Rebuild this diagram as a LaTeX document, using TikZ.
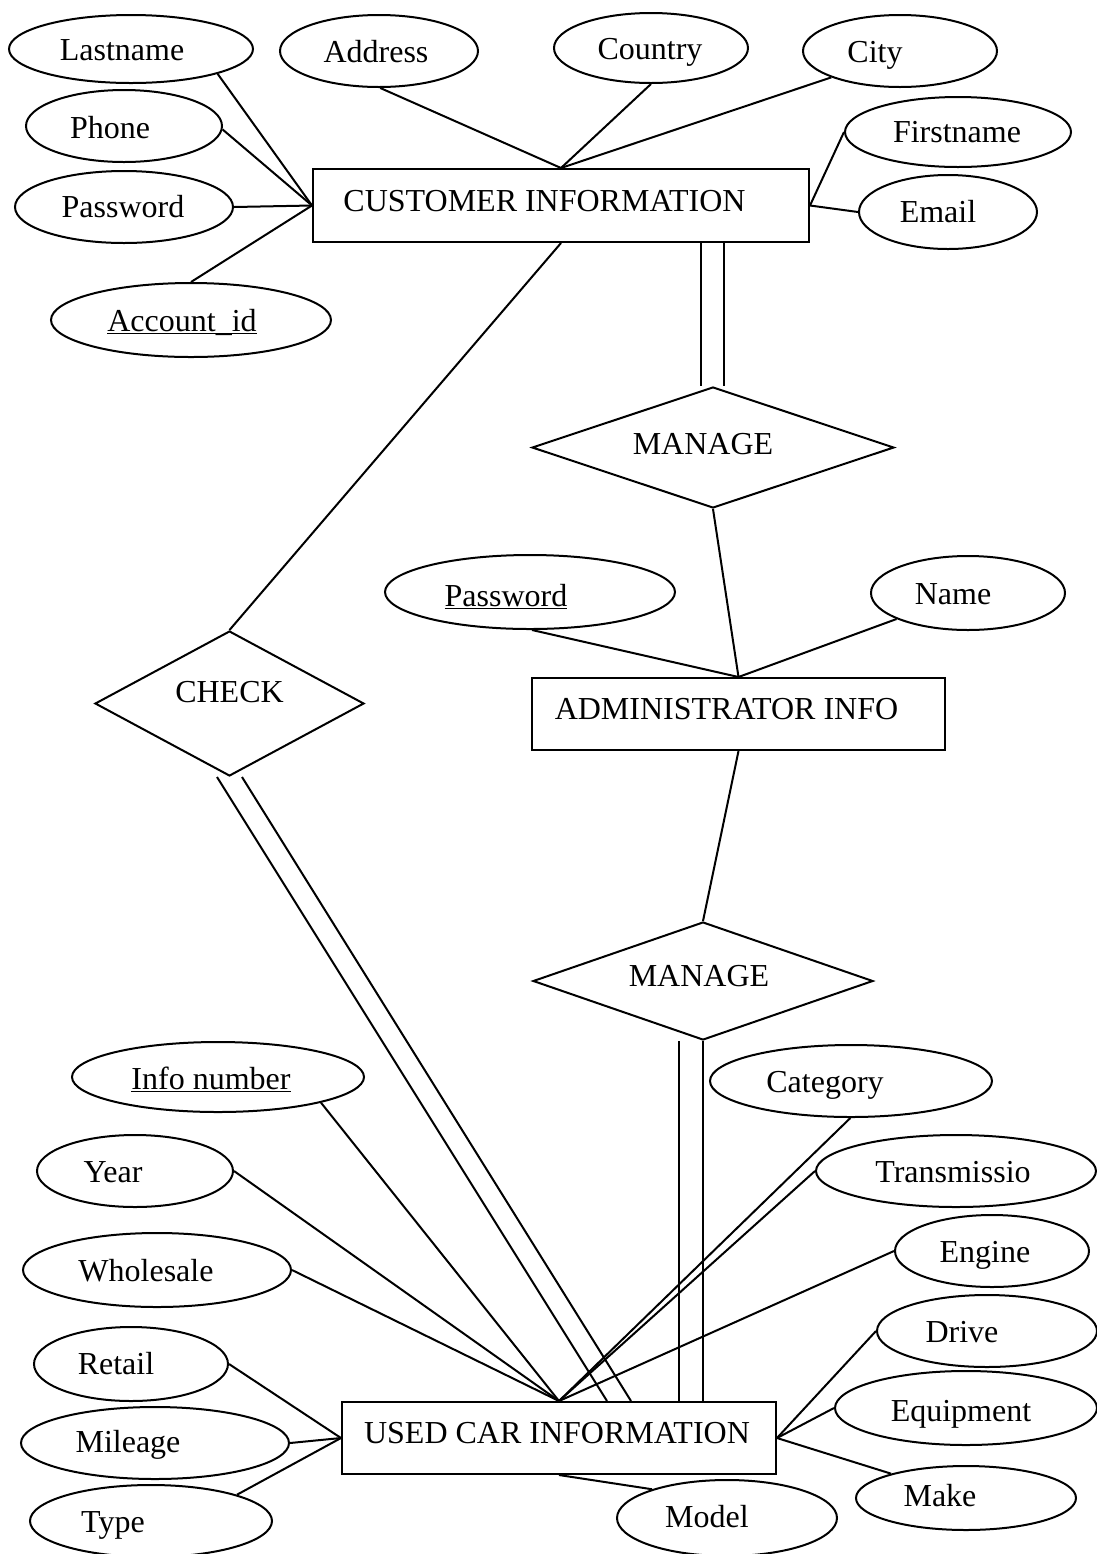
\documentclass[tikz,border=0pt]{standalone}
\usepackage{fontspec}
\setmainfont{Liberation Serif}
\usetikzlibrary{shapes.geometric,backgrounds}

% place a label off the centre of its shape: #1 right, #2 up, #3 text
\newcommand\tx[3]{\raisebox{#2}{\kern#1\relax#3\kern-\dimexpr#1\relax}}
\newcommand\key[1]{\underline{\smash{#1}}}

\tikzset{
  base/.style={draw, line width=1pt, fill=white, inner sep=0pt,
    text height=0.9em, text depth=0pt, font=\fontsize{16}{19}\selectfont},
  attr/.style={base, ellipse},
  ent/.style={base, rectangle},
  rel/.style={base, diamond, aspect=3},
  link/.style={line width=1pt},
}

\begin{document}
\begin{tikzpicture}[x=0.5pt, y=-0.5pt]
\useasboundingbox (0,0) rectangle (1097,1554);

% ---------------- entities ----------------
\node[ent, minimum width=248pt, minimum height=36.5pt] (cust) at (561,205.5) {\tx{-8.25pt}{1.5pt}{CUSTOMER INFORMATION}};
\node[ent, minimum width=206.5pt, minimum height=36pt] (admin) at (738.5,714) {\tx{-6pt}{2pt}{ADMINISTRATOR INFO}};
\node[ent, minimum width=217pt, minimum height=36pt] (ucar) at (559,1438) {\tx{-1pt}{2pt}{USED CAR INFORMATION}};

% ---------------- relationships ----------------
\node[rel, minimum width=181pt, minimum height=60.5pt] (manage1) at (713,447.5) {\tx{-5pt}{1.25pt}{MANAGE}};
\node[rel, minimum width=134.5pt, minimum height=72.5pt] (check) at (229.5,703.5) {\tx{0pt}{5.25pt}{CHECK}};
\node[rel, minimum width=170pt, minimum height=59pt] (manage2) at (703,981) {\tx{-2pt}{2pt}{MANAGE}};

% ---------------- customer attributes ----------------
\node[attr, minimum width=122pt, minimum height=34pt] (lastname) at (131,49) {\tx{-4.5pt}{-1pt}{Lastname}};
\node[attr, minimum width=99pt, minimum height=36pt] (address) at (379,51) {\tx{-1.5pt}{-1pt}{Address}};
\node[attr, minimum width=97pt, minimum height=35pt] (country) at (651,48) {\tx{-0.5pt}{-1pt}{Country}};
\node[attr, minimum width=97pt, minimum height=36pt] (city) at (900,51) {\tx{-12.5pt}{-1pt}{City}};
\node[attr, minimum width=113pt, minimum height=35pt] (firstname) at (958,132) {\tx{-0.5pt}{-0.5pt}{Firstname}};
\node[attr, minimum width=89pt, minimum height=37pt] (email) at (948,212) {\tx{-5pt}{-0.5pt}{Email}};
\node[attr, minimum width=98pt, minimum height=36pt] (phone) at (124,126) {\tx{-7pt}{-1.5pt}{Phone}};
\node[attr, minimum width=109pt, minimum height=36pt] (password) at (124,207) {\tx{-0.5pt}{-0.5pt}{Password}};
\node[attr, minimum width=140pt, minimum height=37pt] (accountid) at (191,320) {\tx{-4.5pt}{-1pt}{\key{Account\_id}}};

% ---------------- administrator attributes ----------------
\node[attr, minimum width=145pt, minimum height=37pt] (adminpw) at (530,592) {\tx{-12pt}{-2.5pt}{\key{Password}}};
\node[attr, minimum width=97pt, minimum height=37pt] (name) at (968,593) {\tx{-7.5pt}{-1pt}{Name}};

% ---------------- used car attributes ----------------
\node[attr, minimum width=146pt, minimum height=35pt] (infonumber) at (218,1077) {\tx{-3.5pt}{-1.5pt}{\key{Info number}}};
\node[attr, minimum width=98pt, minimum height=36pt] (year) at (135,1171) {\tx{-11pt}{-1pt}{Year}};
\node[attr, minimum width=134pt, minimum height=37pt] (wholesale) at (157,1270) {\tx{-5.5pt}{-1pt}{Wholesale}};
\node[attr, minimum width=97pt, minimum height=37pt] (retail) at (131,1364) {\tx{-7.5pt}{-0.5pt}{Retail}};
\node[attr, minimum width=134pt, minimum height=36pt] (mileage) at (155,1443) {\tx{-13.5pt}{0pt}{Mileage}};
\node[attr, minimum width=121pt, minimum height=36pt] (type) at (151,1521) {\tx{-19pt}{-1pt}{Type}};
\node[attr, minimum width=141pt, minimum height=36pt] (category) at (851,1081) {\tx{-13pt}{-1pt}{Category}};
\node[attr, minimum width=140pt, minimum height=36pt] (transmissio) at (956,1171) {\tx{-1.5pt}{-1pt}{Transmissio}};
\node[attr, minimum width=97pt, minimum height=36pt] (engine) at (992,1251) {\tx{-3.5pt}{-1pt}{Engine}};
\node[attr, minimum width=110pt, minimum height=36pt] (drive) at (987,1331) {\tx{-12.5pt}{-1pt}{Drive}};
\node[attr, minimum width=131pt, minimum height=37pt] (equipment) at (966,1408) {\tx{-2.5pt}{-2pt}{Equipment}};
\node[attr, minimum width=110pt, minimum height=32pt] (make) at (966,1498) {\tx{-13pt}{0.5pt}{Make}};
\node[attr, minimum width=110pt, minimum height=38pt] (model) at (727,1518) {\tx{-10pt}{0pt}{Model}};

% ---------------- connectors ----------------
\begin{pgfonlayer}{background}
  % customer attributes
  \draw[link] (lastname.-16) -- (cust.west);
  \draw[link] (phone.-2) -- (cust.west);
  \draw[link] (password.east) -- (cust.west);
  \draw[link] (accountid.north) -- (cust.west);
  \draw[link] (address.-88) -- (cust.north);
  \draw[link] (country.south) -- (cust.north);
  \draw[link] (city.-159) -- (cust.north);
  \draw[link] (firstname.west) -- (cust.east);
  \draw[link] (email.west) -- (cust.east);

  % customer -- manage (total participation)
  \draw[link] ([xshift=70pt]cust.south) -- ([xshift=-6pt]manage1.north);
  \draw[link] ([xshift=81.5pt]cust.south) -- ([xshift=5.5pt]manage1.north);
  % customer -- check
  \draw[link] (cust.south) -- (check.north);

  % administrator
  \draw[link] (manage1.south) -- (admin.north);
  \draw[link] (adminpw.-87) -- (admin.north);
  \draw[link] (name.-160) -- (admin.north);
  \draw[link] (admin.south) -- (manage2.north);

  % manage -- used car (total participation)
  \draw[link] ([xshift=-12pt]manage2.south) -- ([xshift=60pt]ucar.north);
  \draw[link] (manage2.south) -- ([xshift=72pt]ucar.north);
  % check -- used car (total participation)
  \draw[link] ([xshift=-6.25pt]check.south) -- ([xshift=24pt]ucar.north);
  \draw[link] ([xshift=6.25pt]check.south) -- ([xshift=36pt]ucar.north);

  % used car attributes
  \draw[link] (infonumber.-14) -- (ucar.north);
  \draw[link] (year.east) -- (ucar.north);
  \draw[link] (wholesale.east) -- (ucar.north);
  \draw[link] (category.-91) -- (ucar.north);
  \draw[link] (transmissio.west) -- (ucar.north);
  \draw[link] (engine.west) -- (ucar.north);
  \draw[link] (retail.east) -- (ucar.west);
  \draw[link] (mileage.east) -- (ucar.west);
  \draw[link] (type.17) -- (ucar.west);
  \draw[link] (drive.west) -- (ucar.east);
  \draw[link] (equipment.west) -- (ucar.east);
  \draw[link] (make.162) -- (ucar.east);
  \draw[link] (model.159) -- (ucar.south);
\end{pgfonlayer}
\end{tikzpicture}
\end{document}
